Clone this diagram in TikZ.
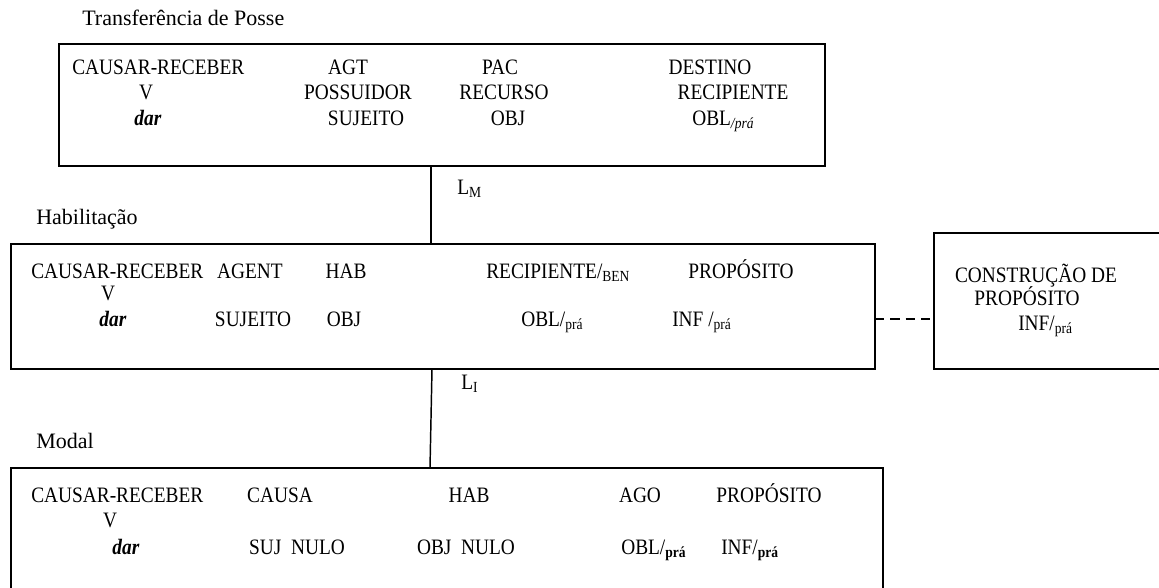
\documentclass[tikz,border=0pt]{standalone}
\usepackage{fontspec}
\setmainfont{Liberation Serif}
\newfontfamily\boxfont[FakeStretch=0.88]{Liberation Serif}
\usetikzlibrary{positioning,calc}

\tikzset{
  frame/.style={draw, line width=1.4pt, inner sep=0pt, outer sep=0pt, anchor=north west},
  word/.style={inner sep=0pt, anchor=base, font=\boxfont\fontsize{16.5}{19}\selectfont},
  wordw/.style={word, anchor=base west},
  title/.style={inner sep=0pt, anchor=base west},
  link/.style={line width=1.1pt}
}

\begin{document}
\begin{tikzpicture}[x=0.75pt, y=-0.75pt, font=\fontsize{16.5}{19}\selectfont]
\useasboundingbox (0,0) rectangle (1159,587);

% frames
\node[frame, minimum width={766*0.75pt}, minimum height={122*0.75pt}] (posse) at (59,44) {};
\node[frame, minimum width={864*0.75pt}, minimum height={125*0.75pt}] (habil) at (11,244) {};
\node[frame, minimum width={240*0.75pt}, minimum height={136*0.75pt}] (cprop) at (934,233) {};
\node[frame, minimum width={872*0.75pt}, minimum height={130*0.75pt}] (modal) at (11,468) {};

% frame titles
\node[title] (tposse) at (82,25) {Transferência de Posse};
\node[title] (thabil) at (36,224) {Habilitação};
\node[title] (tmodal) at (36,448) {Modal};

% Transferencia de Posse
\node[wordw] (p11) at (72,74) {CAUSAR-RECEBER};
\node[word] (p12) at (348,74) {AGT};
\node[word] (p13) at (500,74) {PAC};
\node[word] (p14) at (710,74) {DESTINO};
\node[word] (p21) at (146,99) {V};
\node[word] (p22) at (358,99) {POSSUIDOR};
\node[word] (p23) at (504,99) {RECURSO};
\node[word] (p24) at (733,99) {RECIPIENTE};
\node[word] (p31) at (148,125) {\textbf{\textit{dar}}};
\node[word] (p32) at (366,125) {SUJEITO};
\node[word] (p33) at (508,125) {OBJ};
\node[wordw] (p34) at (692,125) {OBL\textsubscript{\textit{/prá}}};

% Habilitacao
\node[wordw] (h11) at (31,278) {CAUSAR-RECEBER};
\node[word] (h12) at (250,278) {AGENT};
\node[word] (h13) at (346,278) {HAB};
\node[wordw] (h14) at (486,278) {RECIPIENTE/\textsubscript{BEN}};
\node[word] (h15) at (741,278) {PROPÓSITO};
\node[word] (h21) at (108,300) {V};
\node[word] (h31) at (113,326) {\textbf{\textit{dar}}};
\node[word] (h32) at (253,326) {SUJEITO};
\node[word] (h33) at (344,326) {OBJ};
\node[wordw] (h34) at (521,326) {OBL/\textsubscript{prá}};
\node[wordw] (h35) at (672,326) {INF /\textsubscript{prá}};

% Construcao de Proposito
\node[word] (c1) at (1036,282) {CONSTRUÇÃO DE};
\node[word] (c2) at (1027,305) {PROPÓSITO};
\node[wordw] (c3) at (1018,330) {INF/\textsubscript{prá}};

% Modal
\node[wordw] (m11) at (31,502) {CAUSAR-RECEBER};
\node[word] (m12) at (280,502) {CAUSA};
\node[word] (m13) at (469,502) {HAB};
\node[word] (m14) at (640,502) {AGO};
\node[word] (m15) at (769,502) {PROPÓSITO};
\node[word] (m21) at (110,527) {V};
\node[word] (m31) at (126,554) {\textbf{\textit{dar}}};
\node[word] (m32) at (297,554) {SUJ\ \ NULO};
\node[word] (m33) at (466,554) {OBJ\ \ NULO};
\node[wordw] (m34) at (621,554) {OBL/\textsubscript{\textbf{prá}}};
\node[wordw] (m35) at (721,554) {INF/\textsubscript{\textbf{prá}}};

% links
\coordinate (lm) at ($(posse.south west)+(372,0)$);
\coordinate (li) at ($(habil.south west)+(421,0)$);
\coordinate (ld) at ($(habil.east)+(0,12.5)$);
\draw[link] (lm) -- (lm |- habil.north);
\draw[link] (li) -- ($(li |- modal.north)+(-2,0)$);
\draw[link, dash pattern=on 7pt off 4.5pt] (ld) -- (ld -| cprop.west);
\node[wordw] (tlm) at (457,194) {L\textsubscript{M}};
\node[wordw] (tli) at (461,389) {L\textsubscript{I}};
\end{tikzpicture}
\end{document}
